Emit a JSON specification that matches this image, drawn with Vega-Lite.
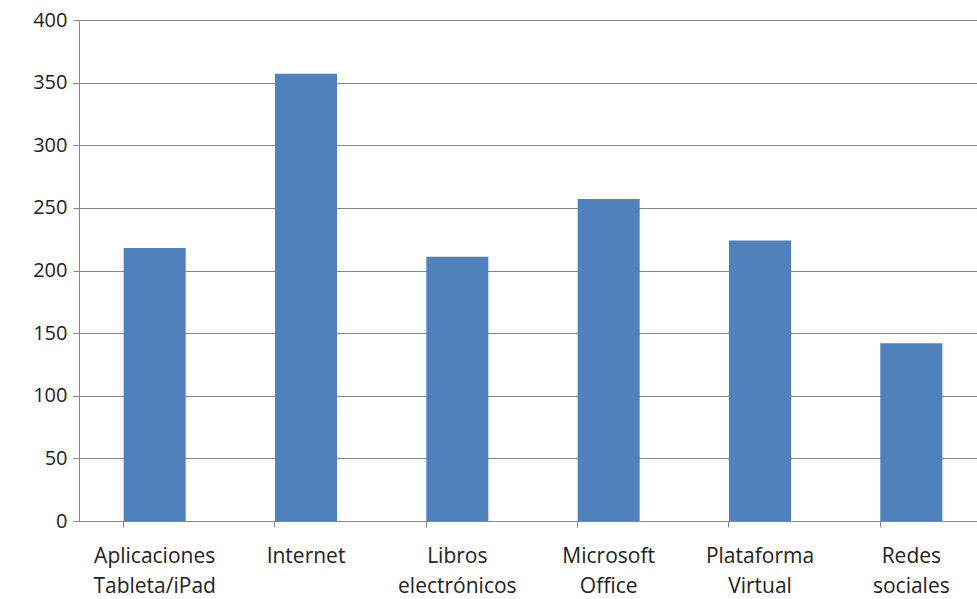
{
  "$schema": "https://vega.github.io/schema/vega-lite/v6.json",
  "width": 908,
  "height": 501,
  "autosize": {"type": "none"},
  "padding": {"left": 79, "top": 20, "right": 0, "bottom": 78},
  "background": "white",
  "config": {
    "view": {"stroke": null},
    "axis": {
      "labelFont": "Open Sans",
      "labelFontSize": 20,
      "labelColor": "#222222",
      "domainColor": "#868686",
      "tickColor": "#868686",
      "gridColor": "#868686",
      "gridWidth": 1,
      "domainWidth": 1,
      "tickWidth": 1
    }
  },
  "data": {
    "values": [
      {"Recurso": "Aplicaciones|Tableta/iPad", "Total": 218},
      {"Recurso": "Internet", "Total": 357},
      {"Recurso": "Libros|electrónicos", "Total": 211},
      {"Recurso": "Microsoft|Office", "Total": 257},
      {"Recurso": "Plataforma|Virtual", "Total": 224},
      {"Recurso": "Redes|sociales", "Total": 142}
    ]
  },
  "layer": [
    {
      "mark": {"type": "bar", "color": "#4F81BD"},
      "encoding": {
        "x": {
          "field": "Recurso",
          "type": "nominal",
          "sort": null,
          "title": null,
          "scale": {"paddingInner": 0.59, "paddingOuter": 0.295},
          "axis": {
            "orient": "bottom",
            "labelAngle": 0,
            "ticks": false,
            "domain": false,
            "labelFontSize": 21,
            "labelPadding": 24,
            "labelLineHeight": 30,
            "labelExpr": "split(datum.label, '|')"
          }
        },
        "y": {
          "field": "Total",
          "type": "quantitative",
          "title": null,
          "scale": {"domain": [0, 400]},
          "axis": {
            "values": [0, 50, 100, 150, 200, 250, 300, 350, 400],
            "tickSize": 6,
            "labelPadding": 6,
            "grid": true
          }
        }
      }
    },
    {
      "mark": {"type": "bar", "opacity": 0},
      "encoding": {
        "x": {
          "field": "Recurso",
          "type": "nominal",
          "sort": null,
          "title": null,
          "axis": {
            "orient": "bottom",
            "bandPosition": 0,
            "labels": false,
            "tickSize": 6,
            "domain": true
          }
        },
        "y": {"field": "Total", "type": "quantitative"}
      }
    }
  ],
  "resolve": {"axis": {"x": "independent", "y": "shared"}}
}
